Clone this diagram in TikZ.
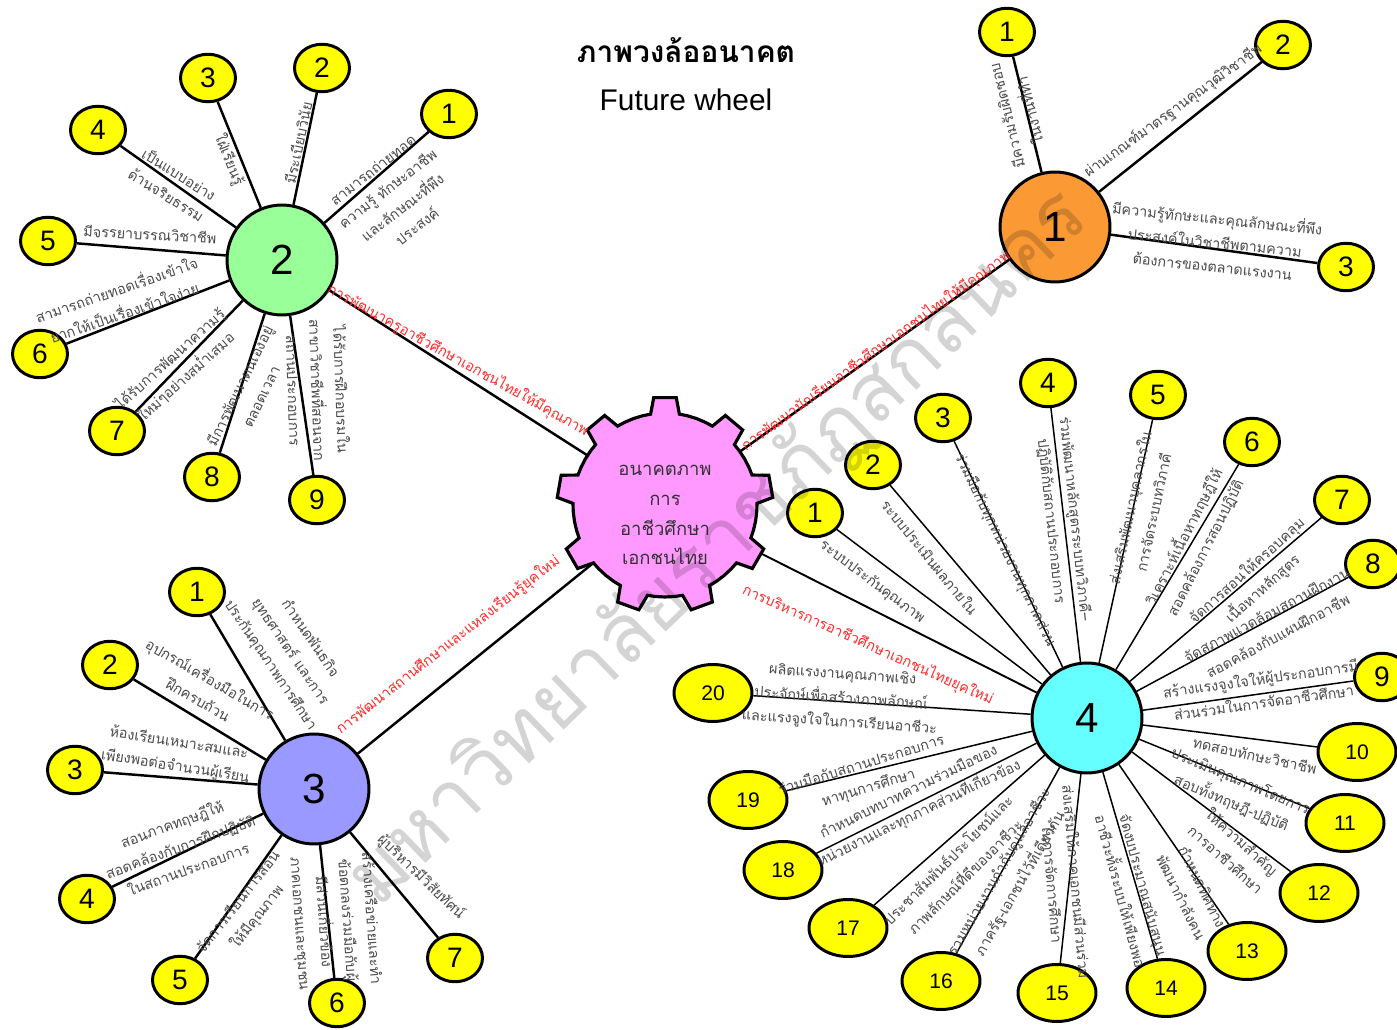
\documentclass[tikz,border=0pt]{standalone}
\usepackage{fontspec}
\setmainfont{Liberation Sans}
\newfontfamily\thaifont[Script=Thai]{Loma}
\usetikzlibrary{shapes.geometric}

\definecolor{leafyellow}{HTML}{FFFF00}
\definecolor{hubone}{HTML}{FB9A35}
\definecolor{hubtwo}{HTML}{99FF99}
\definecolor{hubthree}{HTML}{9999FF}
\definecolor{hubfour}{HTML}{66FFFF}
\definecolor{gearpink}{HTML}{FF99FF}
\definecolor{labelgray}{HTML}{4A4A4A}
\definecolor{edgered}{HTML}{FF2A2A}

\tikzset{
  hub/.style={circle, draw, line width=1.7pt, minimum size=2.2cm, inner sep=0pt, font=\fontsize{24}{24}\selectfont},
  leaf/.style={ellipse, draw, line width=1.7pt, fill=leafyellow, minimum width=1.1cm, minimum height=0.95cm, inner sep=0pt, font=\fontsize{16}{16}\selectfont},
  leafwide/.style={leaf, minimum width=1.56cm, minimum height=1.14cm, font=\fontsize{12}{12}\selectfont},
  lbl/.style={text=labelgray, font=\thaifont\fontsize{8.2}{13.6}\selectfont, align=center, inner sep=0pt},
  elbl/.style={lbl, text=edgered},
  spoke/.style={line width=1.4pt},
  thinspoke/.style={line width=0.85pt},
}

\begin{document}
\begin{tikzpicture}[x=0.02cm, y=-0.02cm]
\useasboundingbox (0,0) rectangle (1397,1030);

% title
\node[font=\thaifont\bfseries\fontsize{17}{17}\selectfont] (title) at (686,50) {ภาพวงล้ออนาคต};
\node[font=\fontsize{17}{17}\selectfont] (subtitle) at (686,100) {Future wheel};

% hubs
\node[circle, minimum size=2cm] (g) at (665,505) {};
\node[hub, fill=hubone] (h1) at (1055,227) {1};
\node[hub, fill=hubtwo] (h2) at (282,260) {2};
\node[hub, fill=hubthree] (h3) at (314,789) {3};
\node[hub, fill=hubfour] (h4) at (1087,718) {4};

% cluster 1
\node[leaf] (c1n1) at (1007,32) {1};
\node[leaf] (c1n2) at (1283,45) {2};
\node[leaf] (c1n3) at (1346,267) {3};

% cluster 2
\node[leaf] (c2n1) at (449,114) {1};
\node[leaf] (c2n2) at (322,68) {2};
\node[leaf] (c2n3) at (208,78) {3};
\node[leaf] (c2n4) at (98,130) {4};
\node[leaf] (c2n5) at (48,241) {5};
\node[leaf] (c2n6) at (40,354) {6};
\node[leaf] (c2n7) at (117,431) {7};
\node[leaf] (c2n8) at (212,477) {8};
\node[leaf] (c2n9) at (317,500) {9};

% cluster 3
\node[leaf] (c3n1) at (197,592) {1};
\node[leaf] (c3n2) at (110,665) {2};
\node[leaf] (c3n3) at (75,770) {3};
\node[leaf] (c3n4) at (87,899) {4};
\node[leaf] (c3n5) at (180,980) {5};
\node[leaf] (c3n6) at (337,1003) {6};
\node[leaf] (c3n7) at (455,958) {7};

% cluster 4
\node[leaf] (c4n1) at (815,513) {1};
\node[leaf] (c4n2) at (873,465) {2};
\node[leaf] (c4n3) at (943,418) {3};
\node[leaf] (c4n4) at (1048,383) {4};
\node[leaf] (c4n5) at (1158,395) {5};
\node[leaf] (c4n6) at (1252,442) {6};
\node[leaf] (c4n7) at (1342,500) {7};
\node[leaf] (c4n8) at (1373,564) {8};
\node[leaf] (c4n9) at (1382,677) {9};
\node[leafwide] (c4n10) at (1357,752) {10};
\node[leafwide] (c4n11) at (1345,823) {11};
\node[leafwide] (c4n12) at (1319,893) {12};
\node[leafwide] (c4n13) at (1247,951) {13};
\node[leafwide] (c4n14) at (1166,988) {14};
\node[leafwide] (c4n15) at (1057,993) {15};
\node[leafwide] (c4n16) at (941,981) {16};
\node[leafwide] (c4n17) at (848,928) {17};
\node[leafwide] (c4n18) at (783,870) {18};
\node[leafwide] (c4n19) at (748,800) {19};
\node[leafwide] (c4n20) at (713,693) {20};

% connectors
\draw[spoke] (g) -- (h1) (g) -- (h2) (g) -- (h3);
\draw[line width=1.1pt] (g) -- (h4);
\draw[spoke] (h1) -- (c1n1) (h1) -- (c1n2) (h1) -- (c1n3);
\draw[spoke] (h2) -- (c2n1) (h2) -- (c2n2) (h2) -- (c2n3) (h2) -- (c2n4) (h2) -- (c2n5)
  (h2) -- (c2n6) (h2) -- (c2n7) (h2) -- (c2n8) (h2) -- (c2n9);
\draw[spoke] (h3) -- (c3n1) (h3) -- (c3n2) (h3) -- (c3n3) (h3) -- (c3n4) (h3) -- (c3n5)
  (h3) -- (c3n6) (h3) -- (c3n7);
\draw[thinspoke] (h4) -- (c4n1) (h4) -- (c4n2) (h4) -- (c4n3) (h4) -- (c4n4) (h4) -- (c4n5)
  (h4) -- (c4n6) (h4) -- (c4n7) (h4) -- (c4n8) (h4) -- (c4n9) (h4) -- (c4n10)
  (h4) -- (c4n11) (h4) -- (c4n12) (h4) -- (c4n13) (h4) -- (c4n14) (h4) -- (c4n15)
  (h4) -- (c4n16) (h4) -- (c4n17) (h4) -- (c4n18) (h4) -- (c4n19) (h4) -- (c4n20);

% gear
\begin{scope}[shift={(665,505)}]
\filldraw[fill=gearpink, line width=1.8pt] (-99:92)
  \foreach \a in {-90,-50,...,230} { -- (\a-9:92) -- (\a-6:108) -- (\a+6:108) -- (\a+9:92)
    -- (\a+14:92) -- (\a+20:92) -- (\a+26:92) } -- cycle;
\end{scope}
\node[lbl, text=black!80, font=\thaifont\fontsize{10.5}{17}\selectfont] (gtxt) at (665,515) {อนาคตภาพ\\การ\\อาชีวศึกษา\\เอกชนไทย};

% edge labels
\node[elbl, rotate=36] (e1) at (876,351) {การพัฒนานักเรียนอาชีวศึกษาเอกชนไทยให้มีคุณภาพ};
\node[elbl, rotate=-29] (e2) at (458,360) {การพัฒนาครูอาชีวศึกษาเอกชนไทยให้มีคุณภาพ};
\node[elbl, rotate=38] (e3) at (448,645) {การพัฒนาสถานศึกษาและแหล่งเรียนรู้ยุคใหม่};
\node[elbl, rotate=-24] (e4) at (868,645) {การบริหารการอาชีวศึกษาเอกชนไทยยุคใหม่};

% cluster 1 labels
\node[lbl, rotate=104] (c1l1) at (1018,113) {มีความรับผิดชอบ\\ในงานที่ทำ};
\node[lbl, rotate=36] (c1l2) at (1173,111) {ผ่านเกณฑ์มาตรฐานคุณวุฒิวิชาชีพ};
\node[lbl, rotate=-6] (c1l3) at (1215,241) {มีความรู้ทักษะและคุณลักษณะที่พึง\\ประสงค์ในวิชาชีพตามความ\\ต้องการของตลาดแรงงาน};

% cluster 2 labels
\node[lbl, rotate=38] (c2l1) at (395,198) {สามารถถ่ายทอด\\ความรู้ ทักษะอาชีพ\\และลักษณะที่พึง\\ประสงค์};
\node[lbl, rotate=78] (c2l2) at (298,143) {มีระเบียบวินัย};
\node[lbl, rotate=-68] (c2l3) at (229,160) {ใฝ่เรียนรู้};
\node[lbl, rotate=-32] (c2l4) at (173,184) {เป็นแบบอย่าง\\ด้านจริยธรรม};
\node[lbl, rotate=-3] (c2l5) at (150,234) {มีจรรยาบรรณวิชาชีพ};
\node[lbl, rotate=19] (c2l6) at (120,300) {สามารถถ่ายทอดเรื่องเข้าใจ\\ยากให้เป็นเรื่องเข้าใจง่าย};
\node[lbl, rotate=42] (c2l7) at (178,368) {ได้รับการพัฒนาความรู้\\ใหม่ๆอย่างสม่ำเสมอ};
\node[lbl, rotate=64] (c2l8) at (250,391) {มีการพัฒนาตนเองอยู่\\ตลอดเวลา};
\node[lbl, rotate=-88] (c2l9) at (318,390) {ได้รับการฝึกอบรมใน\\สาขาวิชาชีพที่สอนจาก\\สถานประกอบการ};

% cluster 3 labels
\node[lbl, rotate=-56] (c3l1) at (290,652) {กำหนดพันธกิจ\\ยุทธศาสตร์ และการ\\ประกันคุณภาพการศึกษา};
\node[lbl, rotate=-30] (c3l2) at (205,688) {อุปกรณ์เครื่องมือในการ\\ฝึกครบถ้วน};
\node[lbl, rotate=-9] (c3l3) at (177,755) {ห้องเรียนเหมาะสมและ\\เพียงพอต่อจำนวนผู้เรียน};
\node[lbl, rotate=20] (c3l4) at (180,846) {สอนภาคทฤษฎีให้\\สอดคล้องกับการฝึกปฏิบัติ\\ในสถานประกอบการ};
\node[lbl, rotate=52] (c3l5) at (248,910) {จัดการเรียนการสอน\\ให้มีคุณภาพ};
\node[lbl, rotate=-86] (c3l6) at (335,921) {สร้างเครือข่ายและทำ\\ข้อตกลงร่วมมือกับผู้\\มีส่วนเกี่ยวข้อง\\ภาคเอกชนและชุมชน};
\node[lbl, rotate=-44] (c3l7) at (421,877) {ผู้บริหารมีวิสัยทัศน์};

% cluster 4 labels
\node[lbl, rotate=-37] (c4l1) at (872,582) {ระบบประกันคุณภาพ};
\node[lbl, rotate=-51] (c4l2) at (930,557) {ระบบประเมินผลภายใน};
\node[lbl, rotate=-64] (c4l3) at (1005,550) {ร่วมมือกับทุกหน่วยงานทุกภาคส่วน};
\node[lbl, rotate=-84] (c4l4) at (1063,520) {ร่วมพัฒนาหลักสูตรระบบทวิภาคี–\\ปฏิบัติกับสถานประกอบการ};
\node[lbl, rotate=78] (c4l5) at (1141,510) {ส่งเสริมพัฒนาบุคลากรใน\\การจัดระบบทวิภาคี};
\node[lbl, rotate=63] (c4l6) at (1194,542) {วิเคราะห์เนื้อหาทฤษฎีให้\\สอดคล้องการสอนปฏิบัติ};
\node[lbl, rotate=42] (c4l7) at (1255,580) {จัดการสอนให้ครอบคลุม\\เนื้อหาหลักสูตร};
\node[lbl, rotate=28] (c4l8) at (1272,625) {จัดสภาพแวดล้อมสถานฝึกงาน\\สอดคล้องกับแผนฝึกอาชีพ};
\node[lbl, rotate=8] (c4l9) at (1262,690) {สร้างแรงจูงใจให้ผู้ประกอบการมี\\ส่วนร่วมในการจัดอาชีวศึกษา};
\node[lbl, rotate=-12] (c4l10) at (1255,755) {ทดสอบทักษะวิชาชีพ};
\node[lbl, rotate=-23] (c4l11) at (1236,792) {ประเมินคุณภาพโดยการ\\สอบทั้งทฤษฎี-ปฏิบัติ};
\node[lbl, rotate=-42] (c4l12) at (1234,850) {ให้ความสำคัญ\\การอาชีวศึกษา};
\node[lbl, rotate=-64] (c4l13) at (1192,892) {กำหนดทิศทาง\\พัฒนากำลังคน};
\node[lbl, rotate=-75] (c4l14) at (1132,888) {จัดงบประมาณสนับสนุน\\อาชีวะทั้งระบบให้เพียงพอ};
\node[lbl, rotate=-85] (c4l15) at (1065,883) {ส่งเสริมให้ภาคเอกชนมีส่วนร่วม\\ในการจัดการศึกษา};
\node[lbl, rotate=60] (c4l16) at (1010,878) {รวมหน่วยงานกำกับดูแลอาชีวะ\\ภาครัฐ-เอกชนไว้ที่เดียวกัน};
\node[lbl, rotate=45] (c4l17) at (956,868) {ประชาสัมพันธ์ประโยชน์และ\\ภาพลักษณ์ที่ดีของอาชีวะ};
\node[lbl, rotate=26] (c4l18) at (914,803) {กำหนดบทบาทความร่วมมือของ\\หน่วยงานและทุกภาคส่วนที่เกี่ยวข้อง};
\node[lbl, rotate=17] (c4l19) at (865,777) {ร่วมมือกับสถานประกอบการ\\หาทุนการศึกษา};
\node[lbl, rotate=-4] (c4l20) at (841,699) {ผลิตแรงงานคุณภาพเชิง\\ประจักษ์เพื่อสร้างภาพลักษณ์\\และแรงจูงใจในการเรียนอาชีวะ};

% watermark
\node[text=black, text opacity=0.17, rotate=44, font=\thaifont\fontsize{46}{46}\selectfont] (wmark) at (718,548) {มหาวิทยาลัยราชภัฏสกลนคร};
\end{tikzpicture}
\end{document}
